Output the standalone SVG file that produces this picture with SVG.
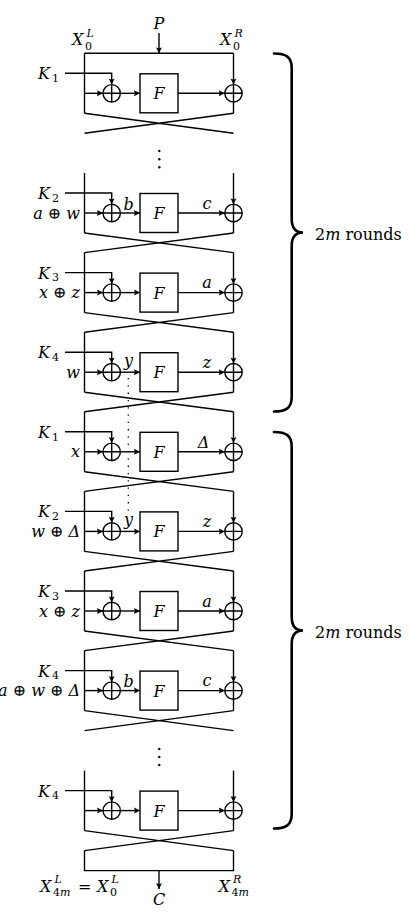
<svg xmlns="http://www.w3.org/2000/svg" xmlns:xlink="http://www.w3.org/1999/xlink" width="410" height="912" viewBox="0 0 410 912">
<style>
.ln{stroke:#000;stroke-width:1.4;fill:none}
.ar{marker-end:url(#ah)}
.br{stroke:#000;stroke-width:2.6;fill:none;stroke-linecap:round}
.m{font-style:italic;font-size:16px;fill:#000}
.rm{font-style:normal}
.s{font-size:11px}
.c{text-anchor:middle}
.e{text-anchor:end}
</style>
<defs>
<marker id="ah" viewBox="-7 -4 8 8" markerWidth="8" markerHeight="8" refX="0" refY="0" orient="auto" markerUnits="userSpaceOnUse"><path d="M0,0 L-6,-3 Q-4.2,0 -6,3 Z" fill="#000"/></marker>
<g id="xor"><circle r="8.7" fill="#fff" stroke="#000" stroke-width="1.4"/><path d="M-8.7,0 H8.7 M0,-8.7 V8.7" stroke="#000" stroke-width="1.4"/></g>
<rect id="fbox" x="-19" y="-19.5" width="38" height="39" fill="#fff" stroke="#000" stroke-width="1.4"/>
</defs>
<rect width="410" height="912" fill="#fff"/>
<g id="connectors">
<path class="ln" d="M84.5,53.3 H233.5"/>
<path class="ln ar" d="M159,33 V53.3"/>
<path class="ln" d="M84.5,53.3 V113.3"/><path class="ln ar" d="M84.5,93.3 H103"/><path class="ln ar" d="M65,73.3 H111.7 V84.6"/><path class="ln ar" d="M120.4,93.3 H140"/><path class="ln ar" d="M178,93.3 H224.8"/><path class="ln ar" d="M233.5,53.3 V84.6"/><path class="ln" d="M233.5,102 V113.3"/><path class="ln" d="M84.5,113.3 L233.5,133.3 M233.5,113.3 L84.5,133.3"/>
<path class="ln" d="M84.5,173 V233"/><path class="ln ar" d="M84.5,213 H103"/><path class="ln ar" d="M65,193 H111.7 V204.3"/><path class="ln ar" d="M120.4,213 H140"/><path class="ln ar" d="M178,213 H224.8"/><path class="ln ar" d="M233.5,173 V204.3"/><path class="ln" d="M233.5,221.7 V233"/><path class="ln" d="M84.5,233 L233.5,252.6 M233.5,233 L84.5,252.6"/>
<path class="ln" d="M84.5,252.6 V312.6"/><path class="ln ar" d="M84.5,292.6 H103"/><path class="ln ar" d="M65,272.6 H111.7 V283.9"/><path class="ln ar" d="M120.4,292.6 H140"/><path class="ln ar" d="M178,292.6 H224.8"/><path class="ln ar" d="M233.5,252.6 V283.9"/><path class="ln" d="M233.5,301.3 V312.6"/><path class="ln" d="M84.5,312.6 L233.5,332.2 M233.5,312.6 L84.5,332.2"/>
<path class="ln" d="M84.5,332.2 V392.2"/><path class="ln ar" d="M84.5,372.2 H103"/><path class="ln ar" d="M65,352.2 H111.7 V363.5"/><path class="ln ar" d="M120.4,372.2 H140"/><path class="ln ar" d="M178,372.2 H224.8"/><path class="ln ar" d="M233.5,332.2 V363.5"/><path class="ln" d="M233.5,380.9 V392.2"/><path class="ln" d="M84.5,392.2 L233.5,411.8 M233.5,392.2 L84.5,411.8"/>
<path class="ln" d="M84.5,411.8 V471.8"/><path class="ln ar" d="M84.5,451.8 H103"/><path class="ln ar" d="M65,431.8 H111.7 V443.1"/><path class="ln ar" d="M120.4,451.8 H140"/><path class="ln ar" d="M178,451.8 H224.8"/><path class="ln ar" d="M233.5,411.8 V443.1"/><path class="ln" d="M233.5,460.5 V471.8"/><path class="ln" d="M84.5,471.8 L233.5,491.4 M233.5,471.8 L84.5,491.4"/>
<path class="ln" d="M84.5,491.4 V551.4"/><path class="ln ar" d="M84.5,531.4 H103"/><path class="ln ar" d="M65,511.4 H111.7 V522.7"/><path class="ln ar" d="M120.4,531.4 H140"/><path class="ln ar" d="M178,531.4 H224.8"/><path class="ln ar" d="M233.5,491.4 V522.7"/><path class="ln" d="M233.5,540.1 V551.4"/><path class="ln" d="M84.5,551.4 L233.5,571 M233.5,551.4 L84.5,571"/>
<path class="ln" d="M84.5,571 V631"/><path class="ln ar" d="M84.5,611 H103"/><path class="ln ar" d="M65,591 H111.7 V602.3"/><path class="ln ar" d="M120.4,611 H140"/><path class="ln ar" d="M178,611 H224.8"/><path class="ln ar" d="M233.5,571 V602.3"/><path class="ln" d="M233.5,619.7 V631"/><path class="ln" d="M84.5,631 L233.5,650.6 M233.5,631 L84.5,650.6"/>
<path class="ln" d="M84.5,650.6 V710.6"/><path class="ln ar" d="M84.5,690.6 H103"/><path class="ln ar" d="M65,670.6 H111.7 V681.9"/><path class="ln ar" d="M120.4,690.6 H140"/><path class="ln ar" d="M178,690.6 H224.8"/><path class="ln ar" d="M233.5,650.6 V681.9"/><path class="ln" d="M233.5,699.3 V710.6"/><path class="ln" d="M84.5,710.6 L233.5,730.6 M233.5,710.6 L84.5,730.6"/>
<path class="ln" d="M84.5,770.6 V830.6"/><path class="ln ar" d="M84.5,810.6 H103"/><path class="ln ar" d="M65,790.6 H111.7 V801.9"/><path class="ln ar" d="M120.4,810.6 H140"/><path class="ln ar" d="M178,810.6 H224.8"/><path class="ln ar" d="M233.5,770.6 V801.9"/><path class="ln" d="M233.5,819.3 V830.6"/><path class="ln" d="M84.5,830.6 L233.5,850.6 M233.5,830.6 L84.5,850.6"/>
<path class="ln" d="M84.5,850.6 V870.6 H233.5 V850.6"/>
<path class="ln ar" d="M159,870.6 V889"/>
<path d="M128.3,378 V512" stroke="#000" stroke-width="1.3" stroke-dasharray="1.3 6" fill="none"/>
</g>
<g font-family="DejaVu Serif, serif">
<g id="round1"><g id="xorL1" transform="translate(111.7,93.3)"><use xlink:href="#xor"/></g><g id="F1" transform="translate(159,93.3)"><use xlink:href="#fbox"/><text class="m c" y="6">F</text></g><g id="xorR1" transform="translate(233.5,93.3)"><use xlink:href="#xor"/></g></g>
<g id="round2"><g id="xorL2" transform="translate(111.7,213)"><use xlink:href="#xor"/></g><g id="F2" transform="translate(159,213)"><use xlink:href="#fbox"/><text class="m c" y="6">F</text></g><g id="xorR2" transform="translate(233.5,213)"><use xlink:href="#xor"/></g></g>
<g id="round3"><g id="xorL3" transform="translate(111.7,292.6)"><use xlink:href="#xor"/></g><g id="F3" transform="translate(159,292.6)"><use xlink:href="#fbox"/><text class="m c" y="6">F</text></g><g id="xorR3" transform="translate(233.5,292.6)"><use xlink:href="#xor"/></g></g>
<g id="round4"><g id="xorL4" transform="translate(111.7,372.2)"><use xlink:href="#xor"/></g><g id="F4" transform="translate(159,372.2)"><use xlink:href="#fbox"/><text class="m c" y="6">F</text></g><g id="xorR4" transform="translate(233.5,372.2)"><use xlink:href="#xor"/></g></g>
<g id="round5"><g id="xorL5" transform="translate(111.7,451.8)"><use xlink:href="#xor"/></g><g id="F5" transform="translate(159,451.8)"><use xlink:href="#fbox"/><text class="m c" y="6">F</text></g><g id="xorR5" transform="translate(233.5,451.8)"><use xlink:href="#xor"/></g></g>
<g id="round6"><g id="xorL6" transform="translate(111.7,531.4)"><use xlink:href="#xor"/></g><g id="F6" transform="translate(159,531.4)"><use xlink:href="#fbox"/><text class="m c" y="6">F</text></g><g id="xorR6" transform="translate(233.5,531.4)"><use xlink:href="#xor"/></g></g>
<g id="round7"><g id="xorL7" transform="translate(111.7,611)"><use xlink:href="#xor"/></g><g id="F7" transform="translate(159,611)"><use xlink:href="#fbox"/><text class="m c" y="6">F</text></g><g id="xorR7" transform="translate(233.5,611)"><use xlink:href="#xor"/></g></g>
<g id="round8"><g id="xorL8" transform="translate(111.7,690.6)"><use xlink:href="#xor"/></g><g id="F8" transform="translate(159,690.6)"><use xlink:href="#fbox"/><text class="m c" y="6">F</text></g><g id="xorR8" transform="translate(233.5,690.6)"><use xlink:href="#xor"/></g></g>
<g id="round9"><g id="xorL9" transform="translate(111.7,810.6)"><use xlink:href="#xor"/></g><g id="F9" transform="translate(159,810.6)"><use xlink:href="#fbox"/><text class="m c" y="6">F</text></g><g id="xorR9" transform="translate(233.5,810.6)"><use xlink:href="#xor"/></g></g>
<g id="dots" fill="#000">
<circle cx="159.3" cy="151" r="1.2"/><circle cx="159.3" cy="159.2" r="1.2"/><circle cx="159.3" cy="167.3" r="1.2"/>
<circle cx="159.3" cy="749" r="1.2"/><circle cx="159.3" cy="757" r="1.2"/><circle cx="159.3" cy="765" r="1.2"/>
</g>
<g id="braces">
<path class="br" d="M274,53.5 C286,53.5 291.7,57 291.7,68 V219 C291.7,228 295,232.5 303,232.5 C295,232.5 291.7,237 291.7,246 V397 C291.7,408 286,411.5 274,411.5"/>
<path class="br" d="M274,432 C286,432 291.7,435.5 291.7,446.5 V617 C291.7,626 295,630.5 303,630.5 C295,630.5 291.7,635 291.7,644 V814 C291.7,825 286,828.5 274,828.5"/>
<text class="m" x="315" y="240"><tspan class="rm">2</tspan>m<tspan class="rm"> rounds</tspan></text>
<text class="m" x="315" y="638"><tspan class="rm">2</tspan>m<tspan class="rm"> rounds</tspan></text>
</g>
<g id="labels">
<text class="m c" x="159" y="29.3">P</text>
<text class="m" x="72" y="45">X</text><text class="m s" x="86.5" y="37">L</text><text class="m s rm" x="85" y="49.5">0</text>
<text class="m" x="220" y="45">X</text><text class="m s" x="234.5" y="37">R</text><text class="m s rm" x="233" y="49.5">0</text>
<text class="m" x="38" y="79.3">K</text><text class="m s rm" x="52" y="82">1</text>
<text class="m" x="38" y="199">K</text><text class="m s rm" x="52" y="201.7">2</text>
<text class="m" x="38" y="278.6">K</text><text class="m s rm" x="52" y="281.3">3</text>
<text class="m" x="38" y="358.2">K</text><text class="m s rm" x="52" y="360.9">4</text>
<text class="m" x="38" y="437.8">K</text><text class="m s rm" x="52" y="440.5">1</text>
<text class="m" x="38" y="517.4">K</text><text class="m s rm" x="52" y="520.1">2</text>
<text class="m" x="38" y="597">K</text><text class="m s rm" x="52" y="599.7">3</text>
<text class="m" x="38" y="676.6">K</text><text class="m s rm" x="52" y="679.3">4</text>
<text class="m" x="38" y="796.6">K</text><text class="m s rm" x="52" y="799.3">4</text>
<text class="m e" x="80" y="218.5">a <tspan class="rm">⊕</tspan> w</text>
<text class="m e" x="80" y="298.1">x <tspan class="rm">⊕</tspan> z</text>
<text class="m e" x="80" y="377.7">w</text>
<text class="m e" x="80" y="457.3">x</text>
<text class="m e" x="80" y="536.9">w <tspan class="rm">⊕</tspan> Δ</text>
<text class="m e" x="80" y="616.5">x <tspan class="rm">⊕</tspan> z</text>
<text class="m e" x="80" y="696.1">a <tspan class="rm">⊕</tspan> w <tspan class="rm">⊕</tspan> Δ</text>
<text class="m c" x="128.5" y="209.7">b</text><text class="m c" x="207" y="208.5">c</text>
<text class="m c" x="207" y="288.1">a</text>
<text class="m c" x="128.5" y="365.7">y</text><text class="m c" x="207" y="367.7">z</text>
<text class="m c" x="203.5" y="447.8">Δ</text>
<text class="m c" x="128.5" y="524.9">y</text><text class="m c" x="207" y="526.9">z</text>
<text class="m c" x="207" y="606.5">a</text>
<text class="m c" x="128.5" y="687.3">b</text><text class="m c" x="207" y="686.1">c</text>
<text class="m" x="40" y="891.7">X</text><text class="m s" x="54.5" y="883">L</text><text class="m s" x="53" y="895.5"><tspan class="rm">4</tspan>m</text>
<text class="m rm" x="78" y="891.7">=</text>
<text class="m" x="97" y="891.7">X</text><text class="m s" x="111.5" y="883">L</text><text class="m s rm" x="110" y="895.5">0</text>
<text class="m" x="218.5" y="891.7">X</text><text class="m s" x="233" y="883">R</text><text class="m s" x="231.5" y="895.5"><tspan class="rm">4</tspan>m</text>
<text class="m c" x="159" y="905">C</text>
</g>
</g>
</svg>
